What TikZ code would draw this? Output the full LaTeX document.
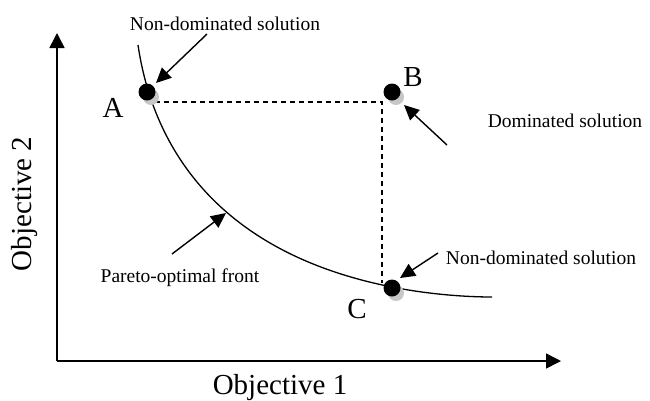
\documentclass[tikz,border=0pt]{standalone}
\usepackage{fontspec}
\setmainfont{Liberation Serif}
\usetikzlibrary{arrows.meta}
\begin{document}
\begin{tikzpicture}[x=1pt,y=-1pt,
  axis/.style={line width=1.5pt,-{Triangle[length=15pt,width=15pt]}},
  pointer/.style={line width=1.4pt,-{Triangle[length=15pt,width=14pt]}},
  guide/.style={line width=1.2pt,dash pattern=on 5pt off 4pt},
  front/.style={line width=1.3pt},
  dot/.style={circle,fill=black,inner sep=0pt,minimum size=17pt},
  halo/.style={circle,fill=black!22,inner sep=0pt,minimum size=16pt},
  biglabel/.style={font=\fontsize{29}{31}\selectfont,inner sep=0pt},
  note/.style={font=\fontsize{19.5}{22}\selectfont,inner sep=0pt,anchor=base}]
\useasboundingbox (0,0) rectangle (650,400);

% axes
\coordinate (O) at (57,361);
\coordinate (ytip) at (57,33);
\coordinate (xtip) at (561,361);
\draw[axis] (O) -- (ytip);
\draw[axis] (O) -- (xtip);
\node[biglabel,anchor=base] (xlab) at (280,394) {Objective 1};
\node[biglabel,rotate=90] (ylab) at (25,204) {Objective 2};

% Pareto-optimal front
\draw[front] (138,45) .. controls (155,160) and (230,255) .. (392,287)
             .. controls (432,295) and (470,297) .. (492,297);

% dominance guides
\coordinate (corner) at (382,102);
\coordinate (gA) at (155,102);
\coordinate (gC) at (382,283);
\draw[guide] (gA) -- (corner) -- (gC);

% solutions, each with a soft shadow
\node[halo] at (151,97) {};
\node[halo] at (396,97) {};
\node[halo] at (396,293) {};
\node[dot] (A) at (147,92) {};
\node[dot] (B) at (392,92) {};
\node[dot] (C) at (392,288) {};
\node[biglabel,anchor=base] (Alab) at (113,117) {A};
\node[biglabel,anchor=base] (Blab) at (413,86) {B};
\node[biglabel,anchor=base] (Clab) at (357,318) {C};

% annotations
\node[note] (nA) at (225,30) {Non-dominated solution};
\node[note] (nB) at (565,127) {Dominated solution};
\node[note] (nC) at (541,264) {Non-dominated solution};
\node[note] (nP) at (180,282) {Pareto-optimal front};

\coordinate (tA) at (207,34);
\coordinate (hA) at (156,83);
\coordinate (tB) at (447,145);
\coordinate (hB) at (404,105);
\coordinate (tC) at (438,253);
\coordinate (hC) at (400,278);
\coordinate (tP) at (172,254);
\coordinate (hP) at (226,213);
\draw[pointer] (tA) -- (hA);
\draw[pointer] (tB) -- (hB);
\draw[pointer] (tC) -- (hC);
\draw[pointer] (tP) -- (hP);
\end{tikzpicture}
\end{document}
